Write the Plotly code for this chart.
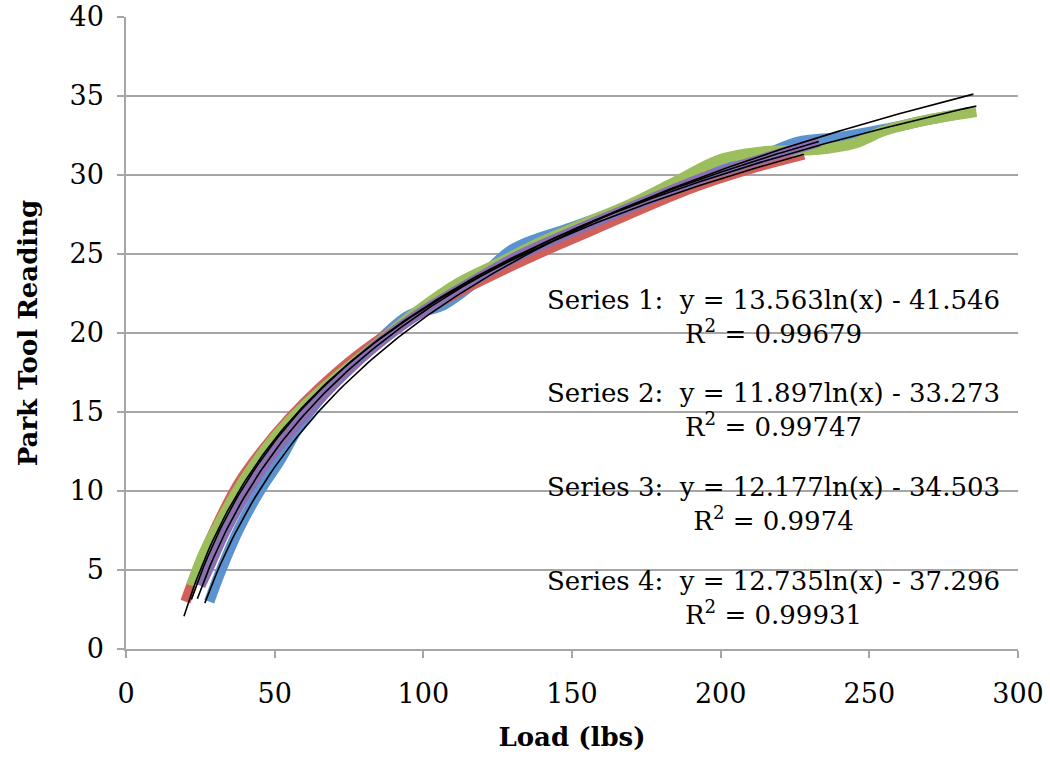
import numpy as np
import plotly.graph_objects as go

# Load (lbs) vs Park Tool reading, four tension test series
s1_x = [28, 32, 38, 45, 52, 58, 66, 80, 95, 106, 118, 130, 150, 175, 200, 215, 226, 240, 255, 270, 284]
s1_y = [3.0, 5.0, 7.6, 10.0, 12.0, 14.0, 16.0, 18.6, 21.1, 21.7, 23.3, 25.3, 26.7, 28.4, 30.3, 31.3, 32.1, 32.4, 32.9, 33.5, 34.0]

s2_x = [20, 24, 30, 38, 46, 55, 65, 78, 90, 102, 115, 128, 142, 158, 175, 192, 210, 228]
s2_y = [3.0, 5.0, 7.6, 10.5, 12.6, 14.6, 16.5, 18.6, 20.2, 21.6, 22.9, 24.1, 25.3, 26.6, 28.0, 29.3, 30.4, 31.3]

s3_x = [22, 26, 32, 40, 50, 60, 72, 85, 98, 112, 125, 140, 155, 170, 185, 200, 215, 232, 245, 255, 270, 286]
s3_y = [4.0, 6.0, 8.2, 10.8, 13.4, 15.4, 17.4, 19.4, 21.4, 23.2, 24.4, 25.8, 27.0, 28.2, 29.6, 31.0, 31.5, 31.6, 32.0, 32.8, 33.5, 34.0]

s4_x = [25, 28, 33, 40, 48, 56, 65, 75, 88, 100, 115, 130, 145, 160, 178, 195, 212, 233]
s4_y = [4.0, 5.2, 7.3, 9.7, 12.0, 13.9, 15.8, 17.7, 19.8, 21.4, 23.1, 24.7, 26.0, 27.2, 28.6, 29.9, 30.9, 32.1]

# Logarithmic trendline coefficients: y = a ln(x) + b
fit_a = [13.563, 11.897, 12.177, 12.735]
fit_b = [-41.546, -33.273, -34.503, -37.296]
fit_r2 = ["0.99679", "0.99747", "0.9974", "0.99931"]
fit_x_range = [(26.5, 285), (19.5, 228), (22, 286), (24, 233)]

colors = ["#5B93D0", "#D0605A", "#9DBE5C", "#8A70B2"]
series = [(s1_x, s1_y), (s2_x, s2_y), (s3_x, s3_y), (s4_x, s4_y)]

font_family = "DejaVu Serif"

fig = go.Figure()

for (xs, ys), c in zip(series, colors):
    fig.add_trace(go.Scatter(
        x=xs, y=ys, mode="lines",
        line=dict(color=c, width=10.5, shape="spline", smoothing=1.0),
        showlegend=False, hoverinfo="skip",
    ))

for a, b, (x0, x1) in zip(fit_a, fit_b, fit_x_range):
    tx = np.linspace(x0, x1, 200)
    fig.add_trace(go.Scatter(
        x=tx, y=a * np.log(tx) + b, mode="lines",
        line=dict(color="black", width=1.6),
        showlegend=False, hoverinfo="skip",
    ))

# Trendline equation labels
label_y = [21.03, 15.13, 9.18, 3.23]
for i in range(4):
    sign = "-" if fit_b[i] < 0 else "+"
    txt = (f"Series {i+1}:  y = {fit_a[i]:.3f}ln(x) {sign} {abs(fit_b[i]):.3f}"
           f"<br>R<sup>2</sup> = {fit_r2[i]}")
    fig.add_annotation(
        x=217.6, y=label_y[i], xref="x", yref="y",
        text=txt, showarrow=False, align="center",
        font=dict(family=font_family, size=26, color="black"),
        xanchor="center", yanchor="middle",
    )

axis_common = dict(
    showline=True, linecolor="#A6A6A6", linewidth=1.5,
    ticks="outside", ticklen=7, tickwidth=1.5, tickcolor="#A6A6A6",
    tickfont=dict(family=font_family, size=27, color="black"),
    zeroline=False, automargin=False,
)

fig.update_xaxes(
    range=[0, 300], tickvals=[0, 50, 100, 150, 200, 250, 300],
    showgrid=False, ticklabelstandoff=13,
    title=dict(text="<b>Load (lbs)</b>", font=dict(family=font_family, size=26, color="black"), standoff=20),
    **axis_common,
)
fig.update_yaxes(
    range=[0, 40], tickvals=[0, 5, 10, 15, 20, 25, 30, 35, 40],
    showgrid=True, gridcolor="#A6A6A6", gridwidth=1.5, ticklabelstandoff=8,
    title=dict(text="<b>Park Tool Reading</b>", font=dict(family=font_family, size=26, color="black"), standoff=24),
    **axis_common,
)

fig.update_layout(
    width=1050, height=759,
    margin=dict(l=126, r=32, t=17, b=110),
    plot_bgcolor="white", paper_bgcolor="white",
)

fig.write_html("out.html")
